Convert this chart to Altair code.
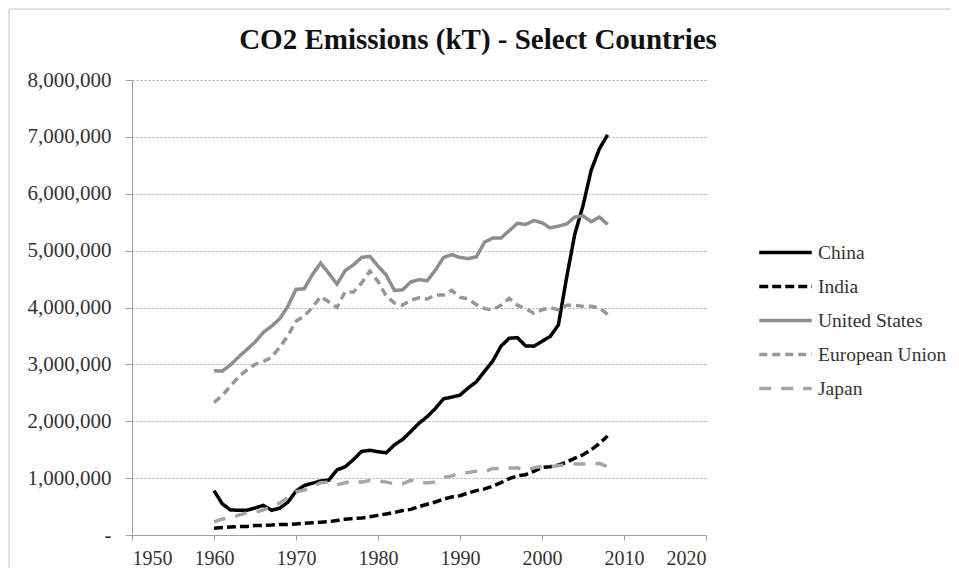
import altair as alt
import pandas as pd

years = list(range(1960, 2009))

china = [780, 550, 440, 435, 435, 475, 520, 435, 470, 575,
         770, 870, 910, 950, 965, 1145, 1200, 1325, 1470, 1490,
         1465, 1445, 1585, 1680, 1820, 1965, 2080, 2225, 2395, 2425,
         2460, 2585, 2695, 2880, 3060, 3320, 3460, 3470, 3325, 3320,
         3405, 3490, 3695, 4525, 5290, 5790, 6415, 6790, 7035]

india = [120, 130, 140, 150, 150, 165, 170, 175, 185, 185,
         195, 205, 215, 225, 235, 255, 275, 290, 300, 320,
         345, 370, 395, 430, 450, 500, 540, 580, 630, 670,
         690, 740, 780, 810, 860, 920, 990, 1040, 1060, 1120,
         1190, 1200, 1230, 1280, 1350, 1410, 1500, 1610, 1740]

united_states = [2890, 2880, 2990, 3130, 3260, 3390, 3560, 3670, 3800, 4020,
                 4320, 4330, 4580, 4780, 4600, 4410, 4650, 4750, 4880, 4900,
                 4730, 4570, 4300, 4310, 4450, 4490, 4470, 4660, 4880, 4930,
                 4880, 4860, 4890, 5150, 5220, 5220, 5350, 5480, 5460, 5530,
                 5490, 5400, 5430, 5470, 5590, 5610, 5510, 5590, 5460]

european_union = [2330, 2450, 2620, 2780, 2900, 3000, 3050, 3120, 3300, 3500,
                  3760, 3850, 4000, 4190, 4100, 4000, 4280, 4270, 4430, 4640,
                  4460, 4200, 4080, 4040, 4130, 4170, 4150, 4220, 4220, 4300,
                  4180, 4150, 4050, 3980, 3960, 4040, 4160, 4040, 3980, 3900,
                  3960, 4000, 3960, 4040, 4040, 4020, 4020, 3990, 3880]

japan = [230, 280, 300, 350, 390, 400, 440, 500, 560, 660,
         760, 790, 850, 920, 930, 880, 920, 950, 930, 960,
         950, 930, 900, 900, 960, 920, 920, 930, 1010, 1040,
         1090, 1100, 1120, 1110, 1170, 1170, 1180, 1180, 1140, 1180,
         1210, 1200, 1220, 1240, 1250, 1250, 1240, 1260, 1200]

countries = ["China", "India", "United States", "European Union", "Japan"]
series = [china, india, united_states, european_union, japan]

line_colors = ["#000000", "#000000", "#8e8e8e", "#979797", "#a5a5a5"]
line_dashes = [[1, 0], [9, 4], [1, 0], [8, 5], [12, 10]]
line_widths = [3.5, 3.5, 2.5, 2.5, 2.5]

x_ticks = [1950, 1960, 1970, 1980, 1990, 2000, 2010, 2020]
y_ticks = [0, 1000000, 2000000, 3000000, 4000000, 5000000, 6000000, 7000000, 8000000]

rows = []
for name, vals in zip(countries, series):
    for yr, v in zip(years, vals):
        rows.append({"year": yr, "country": name, "kt": v * 1000})
df = pd.DataFrame(rows)

FONT = "Liberation Serif"

legend = alt.Legend(
    title=None,
    orient="none",
    legendX=641,
    legendY=160,
    symbolType="M-2.5,0H2.5",
    symbolSize=441,
    labelFont=FONT,
    labelFontSize=19.5,
    labelColor="#333333",
    labelOffset=20,
    rowPadding=12,
    padding=0,
)

lines = alt.Chart(df).mark_line(clip=True).encode(
    x=alt.X("year:Q",
            scale=alt.Scale(domain=[1950, 2020], nice=False, zero=False),
            axis=alt.Axis(values=x_ticks, format="d", title=None,
                          grid=False, tickSize=5, labelPadding=8,
                          labelFontSize=20)),
    y=alt.Y("kt:Q",
            scale=alt.Scale(domain=[0, 8000000], nice=False),
            axis=alt.Axis(values=y_ticks, title=None, grid=True, tickSize=7,
                          labelPadding=14, labelFontSize=21,
                          labelExpr="datum.value == 0 ? '-' : format(datum.value, ',')")),
    color=alt.Color("country:N",
                    scale=alt.Scale(domain=countries, range=line_colors),
                    legend=legend),
    strokeDash=alt.StrokeDash("country:N",
                              scale=alt.Scale(domain=countries, range=line_dashes),
                              legend=legend),
    strokeWidth=alt.StrokeWidth("country:O",
                                scale=alt.Scale(domain=countries, range=line_widths),
                                legend=legend),
    order=alt.Order("year:Q"),
)

# faint frame around the chart (left and top edges, as in the reference)
border_data = alt.Data(values=[{"k": 1}])
left_border = alt.Chart(border_data).mark_rule(color="#c4c4c4", strokeWidth=1).encode(
    x=alt.value(-123), y=alt.value(-71), y2=alt.value(500)
)
top_border = alt.Chart(border_data).mark_rule(color="#c4c4c4", strokeWidth=1).encode(
    x=alt.value(-123), x2=alt.value(819), y=alt.value(-71)
)

chart = alt.layer(left_border, top_border, lines).properties(
    width=574,
    height=455,
    padding={"left": 124, "top": 72, "right": 245, "bottom": 33},
    autosize=alt.AutoSizeParams(type="none"),
    title=alt.TitleParams(
        text="CO2 Emissions (kT) - Select Countries",
        font=FONT, fontSize=29, fontWeight="bold", color="#111111",
        anchor="middle", frame="group", dx=59, offset=-69,
        baseline="alphabetic",
    ),
).configure_view(
    stroke=None
).configure_axis(
    labelFont=FONT,
    labelColor="#333333",
    domainColor="#a0a0a0",
    tickColor="#a0a0a0",
    gridColor="#a8a8a8",
    gridDash=[2, 2],
    gridWidth=1,
)

chart.save("out.html", embed_options={"renderer": "svg", "actions": False})
